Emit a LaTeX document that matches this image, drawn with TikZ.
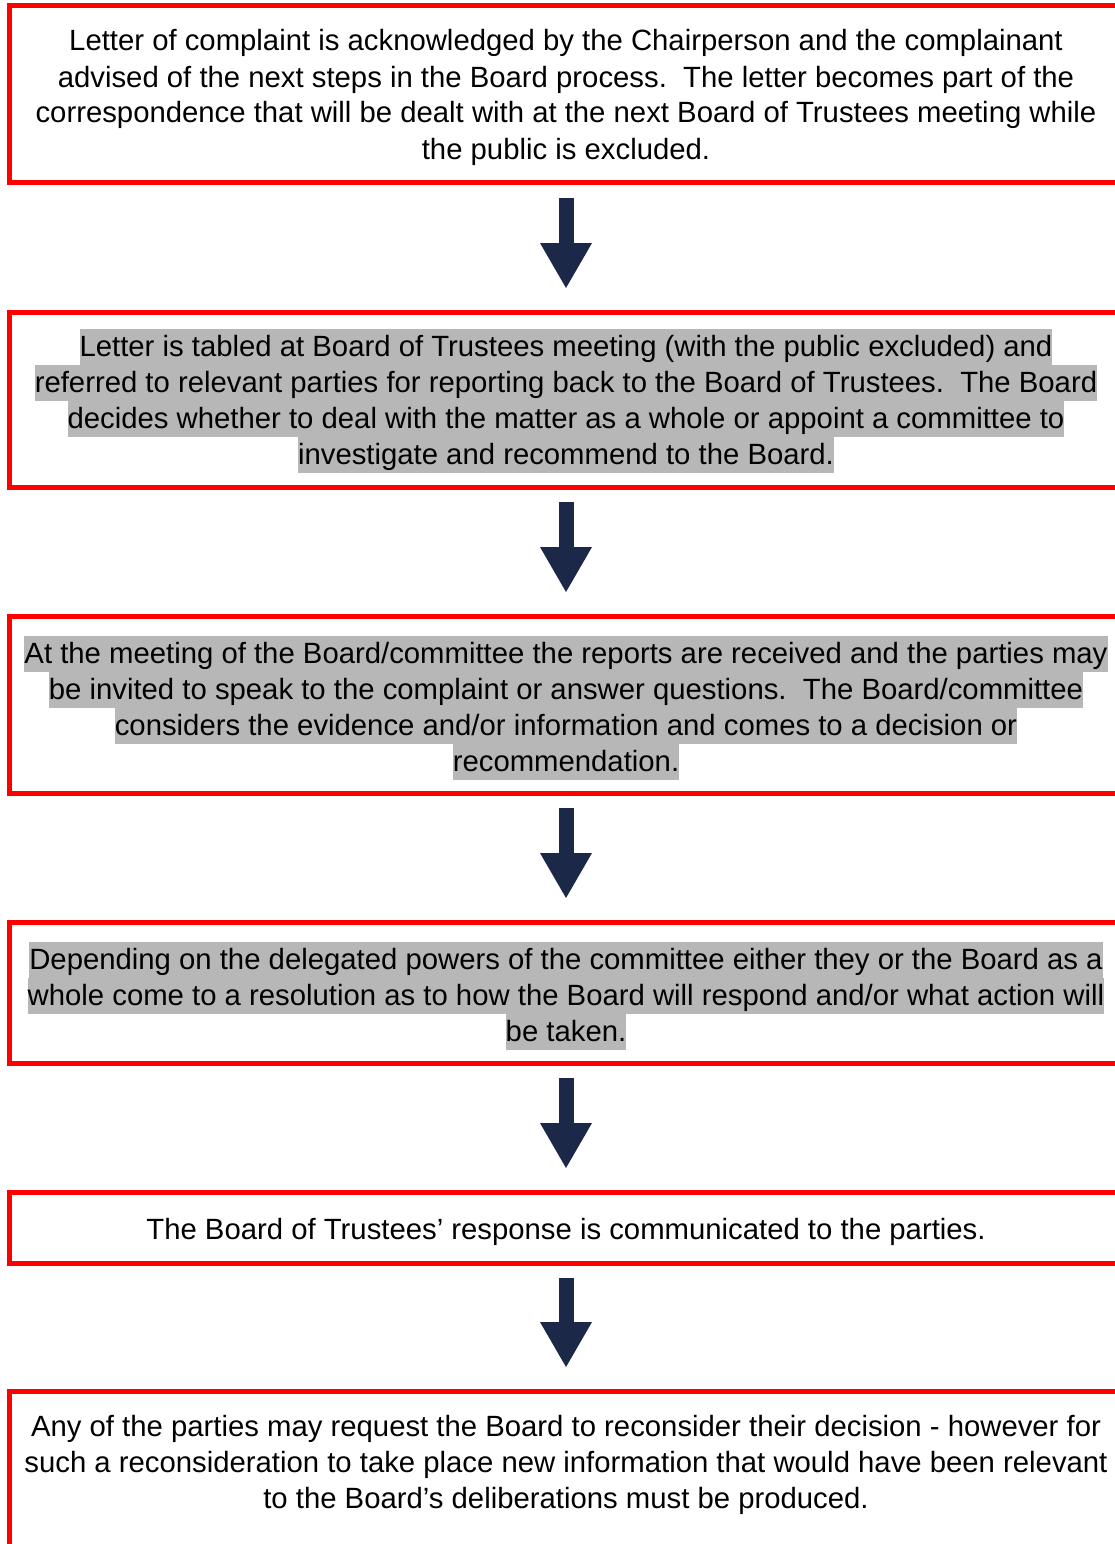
\documentclass[tikz,border=0pt]{standalone}
\usepackage{fontspec}
\setmainfont{Liberation Sans}
\usepackage{xcolor}
\usetikzlibrary{arrows.meta}
\definecolor{boxred}{RGB}{255,0,0}
\definecolor{hlgray}{RGB}{183,183,183}
\definecolor{arrownavy}{RGB}{27,40,72}
\newcommand{\linestrut}{\rule[-8.5pt]{0pt}{36pt}}
\newcommand{\hlrow}[1]{{\setlength{\fboxsep}{0pt}\colorbox{hlgray}{\linestrut#1}}}
\newcommand{\plainrow}[1]{\linestrut#1}

\begin{document}
\begin{tikzpicture}[x=1pt, y=-1pt,
        box/.style={rectangle, draw=boxred, line width=5pt, minimum width=1113pt, inner sep=0pt, outer sep=0pt},
        txt/.style={inner sep=0pt, outer sep=0pt, align=center, font=\fontsize{29.3}{36}\selectfont},
        flow/.style={color=arrownavy, line width=15pt, -{Triangle[width=52pt, length=45pt, line width=0pt]}, shorten <=15pt, shorten >=24pt}]
        \useasboundingbox (0,0) rectangle (1115,1544);
        \clip (0,0) rectangle (1115,1544);
        % box 1
        \node[box, minimum height=177pt] (b1) at (566,94) {};
        \node[txt] (t1) at (566,95.5) {%
            \plainrow{Letter of complaint is acknowledged by the Chairperson and the complainant}\\
            \plainrow{advised of the next steps in the Board process.\ \ The letter becomes part of the}\\
            \plainrow{correspondence that will be dealt with at the next Board of Trustees meeting while}\\
            \plainrow{the public is excluded.}};
        % box 2
        \node[box, minimum height=175pt] (b2) at (566,399.5) {};
        \node[txt] (t2) at (566,401) {%
            \hlrow{Letter is tabled at Board of Trustees meeting (with the public excluded) and}\\
            \hlrow{referred to relevant parties for reporting back to the Board of Trustees.\ \ The Board}\\
            \hlrow{decides whether to deal with the matter as a whole or appoint a committee to}\\
            \hlrow{investigate and recommend to the Board.}};
        % box 3
        \node[box, minimum height=177pt] (b3) at (566,704.5) {};
        \node[txt] (t3) at (566,707.5) {%
            \hlrow{At the meeting of the Board/committee the reports are received and the parties may}\\
            \hlrow{be invited to speak to the complaint or answer questions.\ \ The Board/committee}\\
            \hlrow{considers the evidence and/or information and comes to a decision or}\\
            \hlrow{recommendation.}};
        % box 4
        \node[box, minimum height=141pt] (b4) at (566,992.5) {};
        \node[txt] (t4) at (566,996) {%
            \hlrow{Depending on the delegated powers of the committee either they or the Board as a}\\
            \hlrow{whole come to a resolution as to how the Board will respond and/or what action will}\\
            \hlrow{be taken.}};
        % box 5
        \node[box, minimum height=71pt] (b5) at (566,1227.5) {};
        \node[txt] (t5) at (566,1230) {%
            \plainrow{The Board of Trustees’ response is communicated to the parties.}};
        % box 6 (runs off the page)
        \node[box, minimum height=200pt, anchor=north] (b6) at (566,1391) {};
        \node[txt] (t6) at (566,1463) {%
            \plainrow{Any of the parties may request the Board to reconsider their decision - however for}\\
            \plainrow{such a reconsideration to take place new information that would have been relevant}\\
            \plainrow{to the Board’s deliberations must be produced.}};
        % arrows
        \draw[flow] (b1.south) -- (b2.north);
        \draw[flow] (b2.south) -- (b3.north);
        \draw[flow] (b3.south) -- (b4.north);
        \draw[flow] (b4.south) -- (b5.north);
        \draw[flow] (b5.south) -- (b6.north);
\end{tikzpicture}
\end{document}
